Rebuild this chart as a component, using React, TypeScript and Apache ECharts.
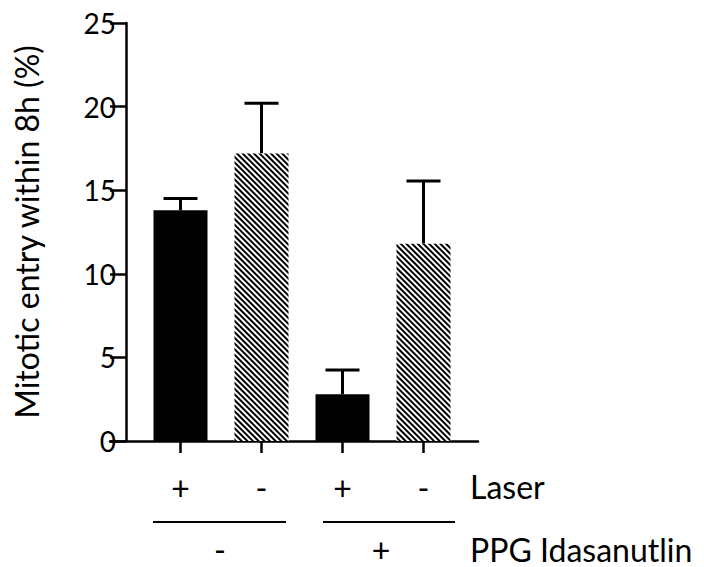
import React, { useEffect, useRef } from "react";
import * as echarts from "echarts";

const categories = ["+", "-", "+", "-"];
const means = [13.8, 17.2, 2.8, 11.8];
const upperErrors = [0.7, 3.0, 1.45, 3.75];
const hatched = [false, true, false, true];
const yMin = 0;
const yMax = 25;
const yInterval = 5;
const yTitle = "Mitotic entry within 8h (%)";
const laserTitle = "Laser";
const ppgLabels = ["-", "+"];
const ppgTitle = "PPG Idasanutlin";

const FONT = "Lato, 'Open Sans', sans-serif";

export default function App() {
  const ref = useRef<HTMLDivElement>(null);
  useEffect(() => {
    if (!ref.current) return;
    const chart = echarts.init(ref.current, undefined, { renderer: "svg" });
    const barData = means.map((v, i) => ({
      value: v,
      itemStyle: hatched[i]
        ? {
            color: "#fff",
            decal: {
              symbol: "rect",
              symbolSize: 1,
              dashArrayX: [[1, 0]],
              dashArrayY: [2, 2],
              rotation: Math.PI / 4,
              color: "#000",
            },
          }
        : { color: "#000" },
    }));
    const errData = means.map((v, i) => [i, v, v + upperErrors[i]]);
    chart.setOption({
      animation: false,
      grid: [
        { left: 140, width: 324, top: 23, bottom: 126 },
        { left: 110, right: 226, top: 23, bottom: 126 },
      ],
      xAxis: [
        {
          type: "category",
          gridIndex: 0,
          data: categories,
          axisLine: { show: false },
          axisTick: { show: true, alignWithLabel: true, length: 12, lineStyle: { color: "#000", width: 2.5 } },
          axisLabel: { color: "#000", fontSize: 32, fontFamily: FONT, margin: 30 },
        },
        {
          type: "value",
          gridIndex: 1,
          min: 0,
          max: 1,
          axisLine: { show: true, onZero: false, lineStyle: { color: "#000", width: 2.5 } },
          axisTick: { show: false },
          axisLabel: { show: false },
          splitLine: { show: false },
        },
      ],
      yAxis: [
        {
          type: "value",
          gridIndex: 0,
          min: yMin,
          max: yMax,
          interval: yInterval,
          offset: 14,
          name: yTitle,
          nameLocation: "middle",
          nameGap: 84,
          nameTextStyle: { color: "#000", fontSize: 32, fontFamily: FONT },
          axisLine: { show: true, lineStyle: { color: "#000", width: 2.5 } },
          axisTick: { show: true, length: 16, lineStyle: { color: "#000", width: 2.5 } },
          axisLabel: { color: "#000", fontSize: 28, fontFamily: FONT, margin: 10 },
          splitLine: { show: false },
        },
        { type: "value", gridIndex: 1, show: false, min: 0, max: 1 },
      ],
      series: [
        {
          type: "custom",
          xAxisIndex: 0,
          yAxisIndex: 0,
          data: errData,
          z: 1,
          renderItem: (params: any, api: any) => {
            const x = api.value(0);
            const lo = api.coord([x, api.value(1)]);
            const hi = api.coord([x, api.value(2)]);
            const half = 17;
            return {
              type: "group",
              children: [
                { type: "line", shape: { x1: lo[0], y1: lo[1], x2: hi[0], y2: hi[1] }, style: { stroke: "#000", lineWidth: 3 } },
                { type: "line", shape: { x1: hi[0] - half, y1: hi[1], x2: hi[0] + half, y2: hi[1] }, style: { stroke: "#000", lineWidth: 3 } },
              ],
            };
          },
        },
        {
          type: "bar",
          xAxisIndex: 0,
          yAxisIndex: 0,
          data: barData,
          barWidth: 54,
          z: 2,
        },
      ],
      graphic: [
        { type: "line", shape: { x1: 153, y1: 522, x2: 286, y2: 522 }, style: { stroke: "#000", lineWidth: 2 } },
        { type: "line", shape: { x1: 323, y1: 522, x2: 455, y2: 522 }, style: { stroke: "#000", lineWidth: 2 } },
        { type: "text", x: 470, y: 486, style: { text: laserTitle, fill: "#000", font: `32px ${FONT}`, verticalAlign: "middle" } },
        { type: "text", x: 470, y: 549, style: { text: ppgTitle, fill: "#000", font: `32px ${FONT}`, verticalAlign: "middle" } },
        { type: "text", x: 220, y: 549, style: { text: ppgLabels[0], fill: "#000", font: `32px ${FONT}`, align: "center", verticalAlign: "middle" } },
        { type: "text", x: 381, y: 549, style: { text: ppgLabels[1], fill: "#000", font: `32px ${FONT}`, align: "center", verticalAlign: "middle" } },
      ],
    });
    return () => chart.dispose();
  }, []);
  return <div ref={ref} style={{ width: 704, height: 567, position: "absolute", left: 0, top: 0 }} />;
}
